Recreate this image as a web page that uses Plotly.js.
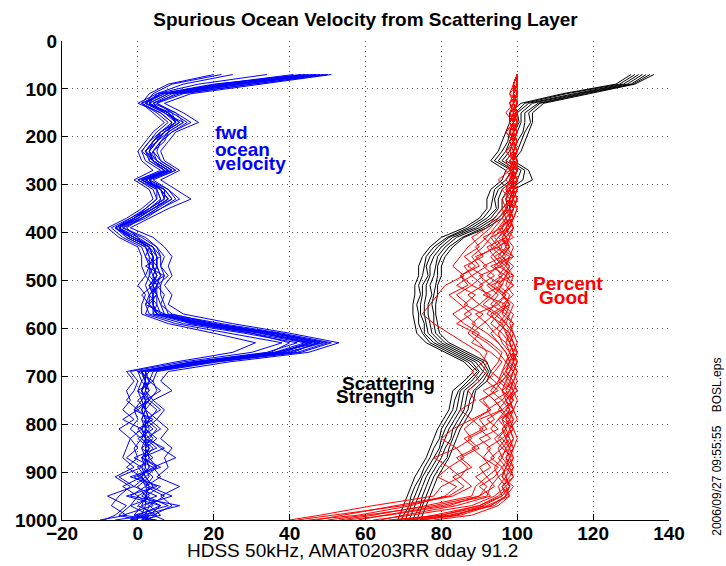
<!DOCTYPE html>
<html>
<head>
<meta charset="utf-8">
<script src="https://cdn.plot.ly/plotly-3.0.1.min.js"></script>
<style>html,body{margin:0;padding:0;background:#fff;}#chart{width:726px;height:566px;}</style>
</head>
<body>
<div id="chart"></div>
<script>
// depth bins (m)
const depth = [70,90,110,130,150,170,190,210,230,250,270,290,310,330,350,370,390,410,430,450,470,490,510,530,550,570,590,610,630,650,670,690,710,730,750,770,790,810,830,850,870,890,910,930,950,970,990,1000];

// fwd ocean velocity profiles (blue)
const vel1  = [50,30,12,5,10,14,9,6,4,6, 10,4,8,11,6,1,-4,2,5,7, 6,8,5,7,6,9,20,36,50,42, 20,4,3,6,2,5,3,6,2,7, 1,5,-2,6,2,8,-1,3];
const vel2  = [45,20,6,1,5,8,5,3,1,2, 6,0,4,5,2,-2,-7,-4,1,2, 3,2,4,1,3,2,10,24,38,30, 12,-2,0,-1,-3,0,-4,1,-2,0, -3,1,-5,-1,-8,-3,-6,-9];
const vel3  = [48,26,8,3,8,11,7,5,3,4, 8,2,6,8,4,0,-5,-2,3,4, 4,5,3,4,4,5,16,33,46,38, 17,1,2,1,2,1,2,1,3,2, 3,1,2,4,0,3,2,1];
const vel4  = [22,9,4,2,9,10,6,4,2,5, 9,1,7,7,3,-1,-6,-1,4,6, 2,7,3,5,2,7,14,30,44,36, 15,0,4,0,3,-1,4,0,2,5, -1,4,0,5,-3,6,0,4];
const vel5  = [34,16,5,0,6,9,8,7,4,3, 7,3,5,6,5,1,-3,0,2,3, 5,4,6,3,5,4,18,35,48,40, 19,3,1,3,1,2,5,2,4,1, 2,3,1,3,2,4,-4,5];
const vel6  = [51,33,14,7,12,16,10,8,6,7, 11,6,10,14,8,3,-2,4,7,9, 8,9,7,9,8,12,25,40,53,45, 24,8,6,9,4,7,5,8,6,9, 7,8,5,11,6,9,4,7];
const vel7  = [43,22,7,1,4,7,4,2,0,1, 4,-1,3,4,1,-3,-8,-5,0,1, 1,2,0,2,1,1,8,20,31,25, 10,-3,-1,-3,-2,-4,-1,-5,-2,-3, -4,-1,-6,-2,-5,-7,-3,-10];
const vel8  = [47,28,9,4,7,12,8,5,3,5, 9,2,7,9,4,0,-6,-1,4,5, 5,6,4,5,5,6,19,37,49,39, 18,2,3,2,3,1,2,3,1,4, 2,3,1,2,3,0,5,2];
const vel9  = [25,12,5,3,8,11,7,4,2,4, 8,1,6,7,3,-1,-5,-3,2,4, 3,4,5,3,3,5,15,32,45,37, 16,1,2,3,0,2,1,4,0,3, 1,6,-1,3,9,1,4,-2];
const vel10 = [49,27,10,5,9,13,9,6,5,6, 10,3,8,10,6,2,-4,1,5,6, 6,7,6,6,7,8,22,38,51,43, 21,5,4,5,3,6,2,5,3,6, 10,4,6,2,7,3,6,1];
const vel11 = [46,24,6,2,7,10,6,4,2,3, 7,0,5,6,3,-2,-6,-3,2,3, 3,3,2,3,2,3,12,28,42,34, 14,0,1,0,1,-1,0,-2,1,-1, 0,-3,1,-4,0,-2,-5,0];
const vel12 = [20,8,3,1,6,9,6,3,1,4, 7,1,5,5,2,-1,-6,-2,3,2, 4,3,5,4,4,4,14,30,40,35, 15,1,2,1,3,0,3,1,2,1, 4,0,2,-1,5,-2,3,-6];
const vel13 = [50,31,11,4,10,12,8,6,4,5, 9,3,7,9,5,1,-5,0,4,5, 5,6,5,5,6,7,20,36,47,41, 19,2,3,2,4,2,3,2,5,2, 3,5,2,4,1,6,3,2];
const vel14 = [44,23,8,3,8,10,7,5,3,4, 8,2,6,8,4,0,-5,-1,3,4, 4,5,4,4,4,5,17,34,46,38, 17,1,2,2,1,2,1,2,2,3, 1,2,3,0,2,1,-1,3];
const vel15 = [47,25,7,2,7,11,7,4,3,4, 8,1,6,8,4,-1,-6,-2,3,5, 5,4,4,5,3,6,18,36,48,36, 16,1,3,1,2,2,3,1,2,2, 2,1,4,2,-2,11,1,4];
const vel16 = [41,21,6,2,8,10,6,5,2,4, 8,2,6,7,3,-1,-5,-2,3,4, 4,5,3,4,4,5,16,33,45,38, 17,2,2,1,2,1,2,2,1,3, 2,2,1,3,2,2,1,-2];

// scattering strength profiles (black)
const ss1 = [130,126,112,101,98,98,97,96,95,93, 97,96,93,92,92,90,86,80,77,75, 74,74,73,73,72.5,72.5,73,73.5,76,81, 86,88.5,86,83,82.5,82,80.5,79,78,77, 76,74.5,73,72,71,70,69,68.5];
const ss2 = [131,127,113,102,99.5,99,98,97.5,96,94, 98.5,97,94,93.5,93,91,87,81.5,78,76, 75.5,75,74,74.5,73.5,74,74,75,77,82, 87,89.5,87,84.5,83.5,83,81.5,80,79.5,78, 77,75.5,74.5,73,72,71.5,70,69.5];
const ss3 = [132,128,115,103,100,100.5,99,98,97,95, 99,98.5,95,94,94.5,92,88,82,79,77, 76,76.5,75,75,74.5,74.5,75.5,75.5,78,83, 88,90,88,85,84.5,84,82.5,81,80,79.5, 78,76.5,75,74,73,72,71,70.5];
const ss4 = [133,129,116,104,101,101,100,99,98,96, 100,99,96,95,95,93,89,83,80,78, 77,77,76,76,75.5,75.5,76,76.5,79,84, 89,91,89,86,85.5,85,83.5,82,81,80, 79,77.5,76,75,74,73,72,71.5];
const ss5 = [134,130,117,105.5,102,102,101.5,100,99,97, 101,100,97.5,96,96,94,90,84,81,79, 78.5,78,77,77.5,76.5,76.5,77,77.5,80,85, 90,92,90,87,86.5,86,84.5,83,82.5,81, 80,78.5,77,76,75,74.5,73,72.5];
const ss6 = [135,130.5,118,106,103,103.5,102,101,100,98, 102,101.5,98,97,97.5,95,91,85.5,82,80, 79,79,78.5,78,77.5,78,78,78.5,81,86, 91,92.5,91,88.5,87.5,87,85.5,84,83,82, 81.5,79.5,78,77,76,75,74,73.5];
const ss7 = [136,131,119,107,104,104,103,102,101,99, 103,104,99,98,98,96,92,86,83,81, 80,80,79,79,78.5,78.5,79,79.5,82,87, 92,93,92,89,88.5,88,86.5,85,84,83, 82,80.5,79,78,77,76,75,74.5];

// percent good profiles (red)
const pg1  = [100,100,99,100,99,100,99,100,99,100, 99,100,99,100,99,98,99,97,98,96, 98,97,99,96,98,97,99,98,99,100, 99,100,99,100,98,99,100,98,99,98, 99,98,97,98,96,90,78,70];
const pg2  = [100,99,100,98,99,100,98,99,100,98, 99,97,99,98,99,97,96,94,96,93, 95,92,96,94,91,95,93,96,98,99, 97,99,98,97,99,96,98,97,95,97, 96,98,95,97,94,88,72,62];
const pg3  = [100,100,99,100,99,98,100,99,98,99, 100,98,97,99,96,94,92,88,90,86, 89,85,88,84,87,83,86,90,88,93, 96,94,92,95,90,93,88,91,86,89, 84,87,85,88,83,70,52,42];
const pg4  = [100,99,100,99,100,99,98,99,100,99, 98,99,100,98,97,95,93,90,87,85, 83,86,81,79,77,75,78,82,86,90, 92,91,94,96,97,95,98,96,97,95, 96,94,95,93,92,80,65,58];
const pg5  = [100,100,98,99,97,99,98,100,97,99, 98,95,98,97,99,98,97,99,95,97, 94,96,92,95,93,97,95,98,99,100, 98,97,99,98,96,98,97,99,96,98, 97,99,98,96,97,93,85,75];
const pg6  = [100,99,100,100,99,100,99,98,100,99, 100,99,98,100,98,96,98,95,93,96, 91,94,90,92,95,89,92,94,97,98, 99,98,96,94,91,93,89,86,88,84, 86,82,85,80,78,62,48,40];
const pg7  = [100,100,100,99,100,98,99,100,99,97, 98,100,99,98,99,98,99,97,99,98, 97,99,98,96,99,98,97,99,100,99, 100,99,100,99,100,99,98,99,100,99, 98,99,97,98,97,94,82,72];
const pg8  = [100,99,99,100,98,99,100,98,99,100, 97,99,98,96,97,99,95,97,92,94, 96,90,93,97,94,92,96,93,95,97, 98,97,95,98,94,96,92,95,90,93, 91,95,92,94,90,78,60,50];
const pg9  = [100,100,99,98,100,99,97,99,98,100, 99,98,99,100,99,97,98,96,98,94, 97,95,99,96,98,94,97,95,96,98, 97,96,98,99,97,99,96,97,98,96, 99,97,96,98,95,90,80,68];
const pg10 = [100,99,100,99,100,100,99,100,99,99, 100,99,100,99,100,99,98,93,95,89, 92,88,91,87,90,86,89,87,90,92, 91,88,90,87,89,85,88,83,80,84, 78,82,79,84,81,72,58,45];
const pg11 = [100,100,99,100,99,99,100,99,100,98, 99,99,97,99,98,99,97,98,97,99, 96,98,97,99,96,99,98,99,98,99, 99,98,97,99,98,99,97,98,99,97, 98,96,97,95,96,91,84,74];
const pg12 = [100,99,100,99,98,99,99,100,99,100, 99,98,100,99,97,98,96,91,94,90, 87,91,88,93,90,94,91,88,92,95, 97,99,97,96,99,97,95,93,96,92, 94,90,92,89,88,76,62,53];
const pg13 = [100,100,100,99,100,99,100,99,98,100, 99,100,99,97,100,99,98,96,97,95, 98,96,94,97,95,98,96,97,99,98, 100,99,98,100,97,98,99,96,98,99, 97,98,99,97,98,92,80,66];
const pg14 = [100,99,98,100,99,100,97,99,100,99, 98,99,98,99,97,96,94,92,89,91, 86,88,84,89,86,91,88,92,95,97, 98,96,95,93,96,92,94,90,93,88, 91,93,89,92,90,82,66,55];
const pg15 = [100,100,99,99,100,99,99,98,99,100, 100,98,99,99,98,99,97,95,98,96, 99,97,95,98,97,96,99,97,98,99, 98,100,99,98,99,97,99,98,97,99, 98,97,99,96,98,95,88,78];
const pg16 = [100,99,100,98,99,98,100,99,97,99, 99,99,96,98,99,97,99,98,95,99, 93,97,96,91,97,93,95,98,97,100, 99,97,99,96,98,99,95,97,94,96, 93,96,94,90,93,84,70,64];
const pg17 = [100,100,99,100,98,100,99,99,100,98, 100,99,99,98,96,97,95,93,91,88, 90,85,87,82,85,88,84,89,93,96, 95,93,96,91,94,96,90,92,87,90, 85,88,83,86,82,68,55,47];
const pg18 = [100,99,100,99,100,99,98,100,99,99, 98,100,98,99,98,98,96,97,94,98, 95,99,93,96,98,95,97,99,98,99, 100,98,96,99,97,98,96,99,97,98, 95,97,96,99,97,93,83,71];

const xTicks = [-20,0,20,40,60,80,100,120,140];
const yTicks = [0,100,200,300,400,500,600,700,800,900,1000];

const FONT = 'Liberation Sans, Arial, Helvetica, sans-serif';

const velSet = [vel1,vel2,vel3,vel4,vel5,vel6,vel7,vel8,vel9,vel10,vel11,vel12,vel13,vel14,vel15,vel16];
const ssSet = [ss1,ss2,ss3,ss4,ss5,ss6,ss7];
const pgSet = [pg1,pg2,pg3,pg4,pg5,pg6,pg7,pg8,pg9,pg10,pg11,pg12,pg13,pg14,pg15,pg16,pg17,pg18];

function mk(arr, color){
  return {x: arr, y: depth, type: 'scatter', mode: 'lines',
          line: {color: color, width: 1}, showlegend: false, hoverinfo: 'skip'};
}
const traces = [];
velSet.forEach(a => traces.push(mk(a, '#0000ff')));
ssSet.forEach(a => traces.push(mk(a, '#000000')));
pgSet.forEach(a => traces.push(mk(a, '#ff0000')));

const axCommon = {
  showline: true, linecolor: '#000', linewidth: 1, mirror: false,
  ticks: 'inside', ticklen: 6, tickcolor: '#000', tickwidth: 1,
  showgrid: true, gridcolor: '#555', gridwidth: 1, griddash: '1px,4px',
  zeroline: false,
  tickfont: {family: FONT, size: 19, color: '#000', weight: 'bold'}
};

const NB = '\u00a0';
function ann(text, x, y, xanchor, color){
  return {text: text, x: x, y: y, xref: 'x', yref: 'y', xanchor: xanchor, yanchor: 'middle', showarrow: false,
          font: {family: FONT, size: 19, color: color, weight: 'bold'}};
}
const layout = {
  width: 726, height: 566,
  margin: {l: 62, r: 57, t: 41, b: 46, pad: 0},
  paper_bgcolor: '#fff', plot_bgcolor: '#fff',
  title: {text: 'Spurious Ocean Velocity from Scattering Layer',
          font: {family: FONT, size: 19, color: '#000', weight: 'bold'},
          x: 0.5, xref: 'paper', xanchor: 'center', y: 0.9657, yref: 'container', yanchor: 'middle'},
  xaxis: Object.assign({}, axCommon, {
    range: [-20, 140], tickmode: 'array', tickvals: xTicks,
    ticktext: xTicks.map(v => v < 0 ? '\u2212' + Math.abs(v) : String(v)),
    ticklabelstandoff: -4
  }),
  yaxis: Object.assign({}, axCommon, {
    range: [1000, 0], tickmode: 'array', tickvals: yTicks, ticktext: yTicks.map(String)
  }),
  annotations: [
    ann('fwd', 19.9, 192, 'left', '#0000ff'),
    ann('ocean', 19.9, 227, 'left', '#0000ff'),
    ann('velocity', 19.9, 255, 'left', '#0000ff'),
    ann('Percent', 113.4, 506, 'center', '#ff0000'),
    ann('Good', 112.2, 535, 'center', '#ff0000'),
    ann('Scattering', 53.2, 715, 'left', '#000'),
    ann('Strength', 51.8, 742, 'left', '#000'),
    // x-axis label
    {text: 'HDSS 50kHz, AMAT0203RR dday 91.2', x: 0.4786, y: -0.0628, xref: 'paper', yref: 'paper',
     xanchor: 'center', yanchor: 'middle', showarrow: false,
     font: {family: FONT, size: 19, color: '#000'}},
    // print stamp
    {text: '2006/09/27 09:55:55' + NB.repeat(4) + 'BOSL.eps', x: 1.0799, y: 0.154, xref: 'paper', yref: 'paper',
     xanchor: 'center', yanchor: 'middle', textangle: -90, showarrow: false,
     font: {family: FONT, size: 12, color: '#000'}}
  ]
};

Plotly.newPlot('chart', traces, layout, {displayModeBar: false, staticPlot: true});
</script>
</body>
</html>
